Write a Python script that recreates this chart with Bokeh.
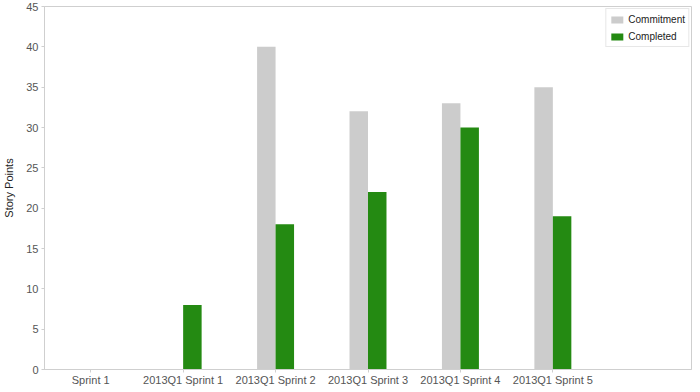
from bokeh.plotting import figure
from bokeh.models import ColumnDataSource, Range1d, FixedTicker, Legend, LegendItem
from bokeh.transform import dodge
from bokeh.embed import file_html
from bokeh.resources import INLINE

sprints = ["Sprint 1", "2013Q1 Sprint 1", "2013Q1 Sprint 2", "2013Q1 Sprint 3",
           "2013Q1 Sprint 4", "2013Q1 Sprint 5"]
commitment = [0, 0, 40, 32, 33, 35]
completed = [0, 8, 18, 22, 30, 19]

idx = list(range(len(sprints)))
src = ColumnDataSource(dict(idx=idx, sprint=sprints, commitment=commitment, completed=completed))

FONT = "Liberation Sans"
GRID = "#cfcfcf"

p = figure(width=692, height=388, output_backend="svg", toolbar_location=None,
           x_range=Range1d(-0.5, len(sprints) + 0.5), y_range=Range1d(0, 45),
           min_border_top=6, min_border_right=1, min_border_left=0, min_border_bottom=0)

r1 = p.vbar(x=dodge("idx", -0.1, range=p.x_range), top="commitment", width=0.2,
            source=src, fill_color="#cccccc", line_color=None)
r2 = p.vbar(x=dodge("idx", 0.1, range=p.x_range), top="completed", width=0.2,
            source=src, fill_color="#248a12", line_color=None)

p.xgrid.visible = False
p.ygrid.visible = False
p.outline_line_color = GRID
p.outline_line_width = 1

p.xaxis.ticker = FixedTicker(ticks=idx)
p.xaxis.major_label_overrides = {i: s for i, s in zip(idx, sprints)}
p.yaxis.ticker = FixedTicker(ticks=list(range(0, 46, 5)))

for ax in (p.xaxis, p.yaxis):
    ax.axis_line_color = GRID
    ax.major_tick_line_color = GRID
    ax.major_tick_out = 3
    ax.major_tick_in = 0
    ax.minor_tick_line_color = None
    ax.major_label_text_font = FONT
    ax.major_label_text_font_size = "11px"
    ax.major_label_text_color = "#555555"
    ax.major_label_standoff = 3
p.xaxis.major_label_standoff = 1

p.yaxis.axis_label = "Story Points"
p.yaxis.axis_label_text_font = FONT
p.yaxis.axis_label_text_font_size = "11px"
p.yaxis.axis_label_text_font_style = "normal"
p.yaxis.axis_label_text_color = "#222222"
p.yaxis.axis_label_standoff = 8

legend = Legend(items=[LegendItem(label="Commitment", renderers=[r1]),
                       LegendItem(label="Completed", renderers=[r2])],
                location="top_right")
legend.label_text_font = FONT
legend.label_text_font_size = "10px"
legend.label_text_color = "#222222"
legend.border_line_color = GRID
legend.glyph_width = 15
legend.glyph_height = 9
legend.label_height = 14
legend.label_standoff = 4
legend.spacing = 3
legend.padding = 3
legend.margin = 2
p.add_layout(legend)

open("out.html", "w").write(file_html(p, INLINE))
